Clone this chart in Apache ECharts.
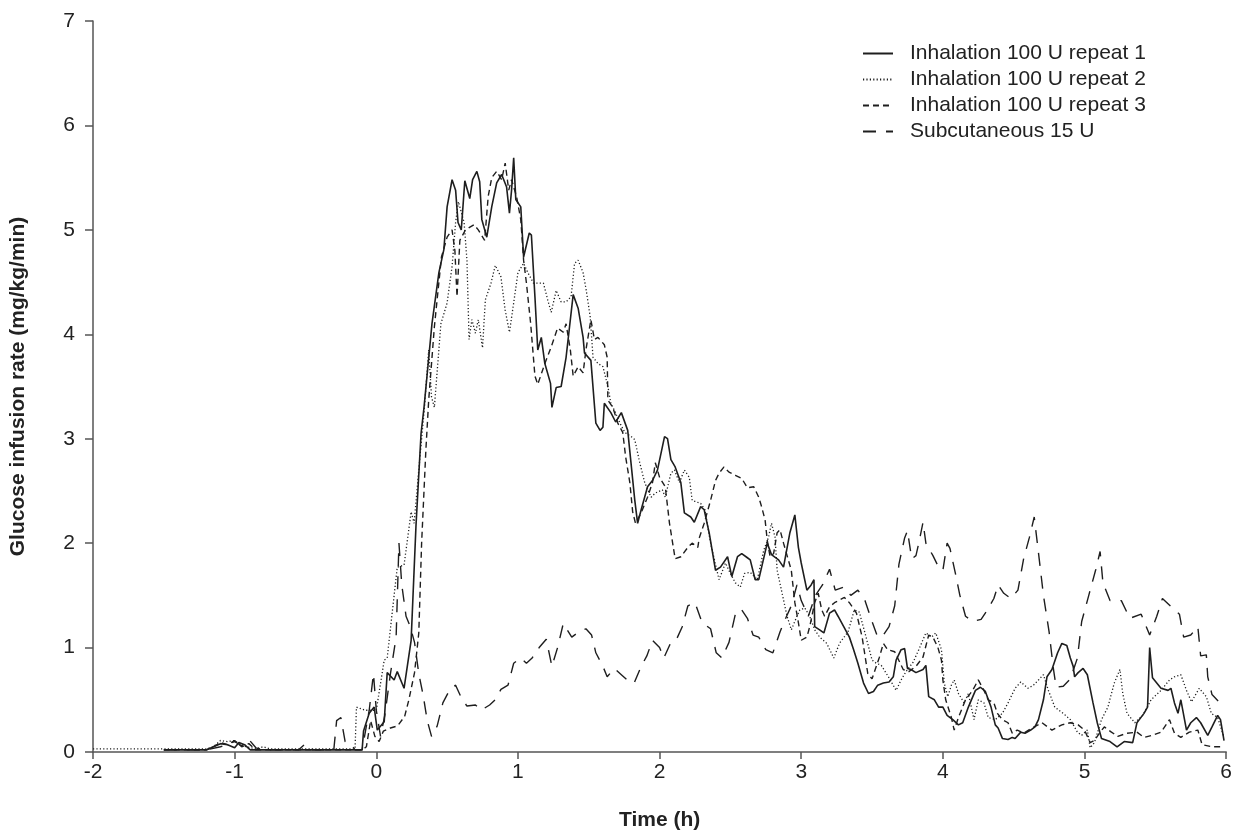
<!DOCTYPE html>
<html>
<head>
<meta charset="utf-8">
<title>Glucose infusion rate</title>
<script src="https://cdn.jsdelivr.net/npm/echarts@6/dist/echarts.min.js"></script>
<style>
  html, body { margin: 0; padding: 0; background: #fff; }
  #main { width: 1235px; height: 836px; }
</style>
</head>
<body>
<div id="main"></div>
<script>
// series names (legend order)
const seriesNames = [
    'Inhalation 100 U repeat 1',
    'Inhalation 100 U repeat 2',
    'Inhalation 100 U repeat 3',
    'Subcutaneous 15 U'
];

// repeat 1 (solid)
const rep1Time = [-1.5, -1.2, -1.15, -1.1, -1.05, -1.0, -0.97, -0.93, -0.89, -0.1, -0.09, -0.05, -0.015, 0.007, 0.056, 0.077, 0.126, 0.148, 0.196, 0.246,
    0.28, 0.316, 0.337, 0.393, 0.442, 0.477, 0.5, 0.535, 0.56, 0.577, 0.6, 0.625, 0.66, 0.68, 0.71, 0.73, 0.745, 0.78, 0.815, 0.85,
    0.885, 0.92, 0.94, 0.955, 0.97, 0.985, 1.02, 1.04, 1.08, 1.095, 1.12, 1.14, 1.165, 1.19, 1.23, 1.24, 1.27, 1.305, 1.34, 1.39,
    1.425, 1.46, 1.47, 1.515, 1.55, 1.58, 1.6, 1.61, 1.656, 1.69, 1.73, 1.775, 1.825, 1.845, 1.87, 1.915, 1.95, 1.985, 2.035, 2.056,
    2.08, 2.11, 2.15, 2.175, 2.22, 2.245, 2.29, 2.315, 2.34, 2.35, 2.395, 2.43, 2.48, 2.51, 2.55, 2.58, 2.62, 2.64, 2.675, 2.7,
    2.76, 2.79, 2.84, 2.875, 2.92, 2.955, 2.98, 3.0, 3.04, 3.07, 3.09, 3.095, 3.13, 3.16, 3.2, 3.235, 3.26, 3.3, 3.34, 3.37,
    3.4, 3.44, 3.475, 3.51, 3.54, 3.58, 3.62, 3.65, 3.67, 3.705, 3.73, 3.75, 3.775, 3.81, 3.86, 3.88, 3.9, 3.94, 3.97, 4.0,
    4.03, 4.07, 4.11, 4.14, 4.18, 4.23, 4.265, 4.3, 4.34, 4.37, 4.39, 4.42, 4.46, 4.49, 4.51, 4.55, 4.58, 4.62, 4.65, 4.675,
    4.71, 4.735, 4.77, 4.81, 4.84, 4.875, 4.9, 4.92, 4.93, 4.955, 4.99, 5.02, 5.06, 5.09, 5.12, 5.18, 5.23, 5.28, 5.34, 5.37,
    5.42, 5.445, 5.46, 5.48, 5.54, 5.59, 5.61, 5.635, 5.66, 5.68, 5.72, 5.75, 5.79, 5.82, 5.87, 5.9, 5.94, 5.96, 5.985];
const rep1Rate = [0.02, 0.02, 0.05, 0.08, 0.07, 0.04, 0.09, 0.07, 0.02, 0.02, 0.2, 0.37, 0.43, 0.21, 0.29, 0.76, 0.69, 0.77, 0.61, 1.07,
    2.16, 3.05, 3.3, 4.1, 4.59, 4.81, 5.22, 5.48, 5.38, 5.07, 5.0, 5.47, 5.3, 5.48, 5.56, 5.46, 5.1, 4.93, 5.22, 5.45,
    5.53, 5.41, 5.16, 5.38, 5.69, 5.29, 5.22, 4.74, 4.97, 4.95, 4.36, 3.85, 3.97, 3.72, 3.53, 3.3, 3.49, 3.5, 3.78, 4.38,
    4.25, 3.97, 3.82, 3.75, 3.15, 3.08, 3.11, 3.34, 3.25, 3.16, 3.25, 3.08, 2.41, 2.19, 2.32, 2.54, 2.6, 2.7, 3.02, 3.0,
    2.8, 2.73, 2.58, 2.29, 2.25, 2.2, 2.35, 2.32, 2.16, 2.1, 1.74, 1.77, 1.87, 1.68, 1.87, 1.9, 1.86, 1.84, 1.65, 1.65,
    2.0, 1.89, 1.84, 1.77, 2.1, 2.27, 1.96, 1.81, 1.55, 1.6, 1.65, 1.2, 1.17, 1.14, 1.33, 1.36, 1.3, 1.2, 1.1, 0.98,
    0.85, 0.66, 0.56, 0.58, 0.64, 0.66, 0.67, 0.72, 0.88, 0.98, 0.99, 0.8, 0.79, 0.76, 0.79, 0.83, 0.53, 0.5, 0.43, 0.43,
    0.35, 0.31, 0.26, 0.28, 0.43, 0.59, 0.62, 0.58, 0.43, 0.26, 0.23, 0.13, 0.12, 0.14, 0.13, 0.19, 0.18, 0.21, 0.24, 0.31,
    0.5, 0.72, 0.79, 0.95, 1.04, 1.02, 0.9, 0.82, 0.72, 0.76, 0.8, 0.74, 0.47, 0.28, 0.13, 0.1, 0.05, 0.1, 0.09, 0.28,
    0.37, 0.43, 1.0, 0.71, 0.61, 0.59, 0.61, 0.47, 0.37, 0.5, 0.21, 0.28, 0.33, 0.28, 0.16, 0.24, 0.35, 0.31, 0.11];

// repeat 2 (dotted)
const rep2Time = [-2, -1.2, -1.15, -1.1, -1.05, -1.0, -0.95, -0.85, -0.8, -0.75, -0.15, -0.14, -0.08, 0.0, 0.056, 0.077, 0.148, 0.196, 0.246, 0.267,
    0.3, 0.34, 0.37, 0.39, 0.41, 0.456, 0.5, 0.535, 0.56, 0.58, 0.62, 0.64, 0.655, 0.675, 0.7, 0.72, 0.75, 0.77, 0.81, 0.84,
    0.88, 0.91, 0.94, 0.97, 1.0, 1.04, 1.07, 1.11, 1.14, 1.18, 1.21, 1.235, 1.27, 1.305, 1.34, 1.375, 1.4, 1.425, 1.46, 1.48,
    1.51, 1.53, 1.565, 1.6, 1.635, 1.656, 1.685, 1.72, 1.755, 1.8, 1.825, 1.86, 1.895, 1.94, 1.97, 2.02, 2.04, 2.08, 2.105, 2.14,
    2.175, 2.21, 2.23, 2.25, 2.29, 2.32, 2.36, 2.42, 2.465, 2.5, 2.535, 2.57, 2.6, 2.64, 2.69, 2.735, 2.77, 2.79, 2.815, 2.83,
    2.865, 2.9, 2.93, 2.97, 2.99, 3.025, 3.06, 3.095, 3.13, 3.18, 3.23, 3.27, 3.33, 3.375, 3.41, 3.45, 3.5, 3.53, 3.565, 3.62,
    3.67, 3.705, 3.74, 3.79, 3.83, 3.88, 3.92, 3.95, 3.99, 4.01, 4.035, 4.06, 4.08, 4.11, 4.15, 4.18, 4.22, 4.25, 4.29, 4.32,
    4.37, 4.42, 4.46, 4.51, 4.55, 4.6, 4.64, 4.675, 4.71, 4.745, 4.79, 4.85, 4.9, 4.95, 4.98, 5.02, 5.04, 5.07, 5.12, 5.165,
    5.21, 5.25, 5.27, 5.3, 5.355, 5.41, 5.47, 5.54, 5.6, 5.635, 5.68, 5.72, 5.755, 5.81, 5.86, 5.895, 5.94, 5.985];
const rep2Rate = [0.03, 0.03, 0.05, 0.11, 0.1, 0.11, 0.06, 0.03, 0.05, 0.03, 0.03, 0.43, 0.4, 0.4, 0.88, 0.9, 1.77, 1.79, 2.3, 2.19,
    2.7, 3.3, 3.85, 3.4, 3.3, 4.1, 4.3, 4.65, 5.07, 5.27, 5.07, 4.71, 3.95, 4.14, 4.01, 4.14, 3.87, 4.33, 4.49, 4.66,
    4.55, 4.23, 4.02, 4.3, 4.59, 4.68, 4.59, 4.49, 4.49, 4.49, 4.33, 4.21, 4.42, 4.31, 4.31, 4.36, 4.68, 4.71, 4.59, 4.44,
    4.17, 3.78, 3.72, 3.69, 3.5, 3.34, 3.26, 3.15, 3.06, 3.02, 2.99, 2.77, 2.58, 2.44, 2.48, 2.51, 2.44, 2.67, 2.7, 2.58,
    2.7, 2.63, 2.41, 2.4, 2.38, 2.32, 2.0, 1.65, 1.81, 1.71, 1.62, 1.58, 1.71, 1.72, 1.65, 1.93, 2.06, 2.19, 2.06, 1.74,
    1.52, 1.3, 1.17, 1.3, 1.36, 1.38, 1.3, 1.17, 1.1, 1.04, 0.9, 1.04, 1.15, 1.36, 1.34, 1.14, 0.88, 0.85, 0.83, 0.71,
    0.59, 0.69, 0.77, 0.86, 0.98, 1.14, 1.1, 1.14, 0.98, 0.66, 0.53, 0.64, 0.69, 0.56, 0.47, 0.56, 0.31, 0.5, 0.47, 0.33,
    0.31, 0.37, 0.47, 0.61, 0.67, 0.61, 0.64, 0.69, 0.74, 0.59, 0.43, 0.37, 0.31, 0.19, 0.16, 0.21, 0.04, 0.09, 0.31, 0.43,
    0.66, 0.79, 0.56, 0.37, 0.28, 0.35, 0.5, 0.59, 0.69, 0.72, 0.74, 0.59, 0.48, 0.61, 0.53, 0.37, 0.33, 0.14];

// repeat 3 (short dash)
const rep3Time = [-1.5, -1.2, -1.15, -1.1, -1.05, -1.0, -0.95, -0.9, -0.85, -0.1, -0.07, -0.04, -0.01, 0.02, 0.05, 0.1, 0.15, 0.2, 0.23, 0.27,
    0.3, 0.32, 0.35, 0.37, 0.41, 0.46, 0.5, 0.535, 0.555, 0.57, 0.59, 0.63, 0.69, 0.72, 0.765, 0.79, 0.815, 0.85, 0.885, 0.91,
    0.935, 0.955, 0.99, 1.02, 1.04, 1.06, 1.09, 1.12, 1.14, 1.19, 1.235, 1.28, 1.32, 1.34, 1.37, 1.39, 1.425, 1.46, 1.48, 1.515,
    1.54, 1.565, 1.61, 1.63, 1.635, 1.67, 1.705, 1.74, 1.76, 1.79, 1.81, 1.83, 1.87, 1.915, 1.95, 1.97, 2.0, 2.04, 2.07, 2.11,
    2.15, 2.2, 2.23, 2.27, 2.28, 2.315, 2.36, 2.395, 2.42, 2.455, 2.49, 2.535, 2.58, 2.62, 2.665, 2.7, 2.72, 2.745, 2.76, 2.78,
    2.805, 2.83, 2.85, 2.875, 2.93, 2.955, 2.98, 3.0, 3.04, 3.06, 3.095, 3.12, 3.145, 3.165, 3.2, 3.235, 3.305, 3.34, 3.39, 3.43,
    3.47, 3.5, 3.55, 3.58, 3.61, 3.66, 3.72, 3.76, 3.81, 3.86, 3.9, 3.93, 3.965, 3.99, 4.0, 4.02, 4.06, 4.08, 4.11, 4.16,
    4.21, 4.25, 4.29, 4.32, 4.36, 4.385, 4.42, 4.46, 4.49, 4.525, 4.57, 4.63, 4.7, 4.77, 4.84, 4.9, 4.955, 5.0, 5.04, 5.07,
    5.11, 5.14, 5.19, 5.235, 5.3, 5.37, 5.42, 5.48, 5.54, 5.6, 5.635, 5.68, 5.74, 5.8, 5.83, 5.9, 5.985];
const rep3Rate = [0.02, 0.02, 0.05, 0.09, 0.07, 0.11, 0.05, 0.08, 0.02, 0.02, 0.05, 0.3, 0.15, 0.1, 0.2, 0.23, 0.25, 0.34, 0.5, 0.76,
    1.14, 2.0, 2.89, 3.37, 4.07, 4.74, 4.93, 5.0, 4.8, 4.36, 4.9, 5.0, 5.05, 5.0, 4.9, 5.32, 5.5, 5.56, 5.48, 5.64,
    5.38, 5.48, 5.32, 5.1, 4.71, 4.49, 4.1, 3.6, 3.52, 3.72, 3.88, 4.06, 4.02, 4.1, 3.85, 3.6, 3.69, 3.63, 3.85, 4.14,
    3.95, 3.97, 3.9, 3.78, 3.37, 3.3, 3.15, 3.06, 2.83, 2.58, 2.3, 2.19, 2.29, 2.44, 2.58, 2.77, 2.63, 2.54, 2.19, 1.85,
    1.87, 1.96, 2.0, 1.96, 2.05, 2.19, 2.41, 2.6, 2.67, 2.73, 2.68, 2.65, 2.62, 2.53, 2.54, 2.44, 2.35, 2.22, 2.03, 1.87,
    1.9, 2.1, 2.13, 2.0, 1.74, 1.43, 1.24, 1.07, 1.1, 1.2, 1.43, 1.52, 1.36, 1.3, 1.39, 1.43, 1.48, 1.43, 1.33, 1.1,
    0.75, 0.7, 0.9, 1.04, 0.98, 0.96, 0.79, 0.77, 0.82, 0.91, 1.12, 1.1, 1.0, 0.88, 0.69, 0.5, 0.33, 0.21, 0.33, 0.5,
    0.59, 0.69, 0.59, 0.5, 0.47, 0.37, 0.31, 0.28, 0.18, 0.21, 0.18, 0.23, 0.28, 0.21, 0.26, 0.28, 0.26, 0.21, 0.09, 0.11,
    0.19, 0.24, 0.19, 0.15, 0.18, 0.19, 0.14, 0.16, 0.19, 0.31, 0.18, 0.14, 0.19, 0.21, 0.07, 0.05, 0.05];

// subcutaneous (long dash)
const scTime = [-1.5, -1.2, -1.1, -1.0, -0.95, -0.9, -0.85, -0.8, -0.55, -0.5, -0.45, -0.3, -0.28, -0.25, -0.22, -0.18, -0.15, -0.1, -0.05, -0.02,
    0.0, 0.03, 0.06, 0.1, 0.14, 0.16, 0.18, 0.21, 0.24, 0.27, 0.3, 0.33, 0.36, 0.39, 0.43, 0.47, 0.52, 0.56, 0.6, 0.64,
    0.7, 0.74, 0.8, 0.84, 0.88, 0.93, 0.97, 1.02, 1.06, 1.1, 1.15, 1.2, 1.24, 1.28, 1.32, 1.38, 1.43, 1.48, 1.52, 1.55,
    1.6, 1.63, 1.68, 1.73, 1.78, 1.82, 1.87, 1.91, 1.95, 2.0, 2.03, 2.08, 2.12, 2.16, 2.2, 2.25, 2.3, 2.36, 2.4, 2.44,
    2.49, 2.54, 2.58, 2.62, 2.66, 2.7, 2.75, 2.8, 2.85, 2.88, 2.93, 2.97, 3.0, 3.05, 3.1, 3.15, 3.2, 3.24, 3.3, 3.35,
    3.4, 3.45, 3.5, 3.54, 3.58, 3.62, 3.66, 3.69, 3.73, 3.75, 3.78, 3.81, 3.83, 3.86, 3.88, 3.93, 3.97, 4.0, 4.03, 4.05,
    4.09, 4.12, 4.16, 4.21, 4.27, 4.31, 4.36, 4.39, 4.43, 4.48, 4.53, 4.57, 4.61, 4.645, 4.68, 4.71, 4.75, 4.78, 4.8, 4.85,
    4.9, 4.95, 4.98, 5.03, 5.08, 5.11, 5.13, 5.18, 5.26, 5.32, 5.4, 5.46, 5.51, 5.55, 5.62, 5.67, 5.7, 5.75, 5.8, 5.82,
    5.86, 5.87, 5.9, 5.95, 6.0];
const scRate = [0.02, 0.02, 0.05, 0.1, 0.06, 0.12, 0.04, 0.02, 0.02, 0.08, 0.02, 0.02, 0.3, 0.33, 0.1, 0.08, 0.02, 0.02, 0.4, 0.75,
    0.4, 0.15, 0.35, 0.75, 1.1, 2.0, 1.6, 1.3, 1.2, 1.05, 0.75, 0.55, 0.3, 0.15, 0.25, 0.47, 0.6, 0.64, 0.52, 0.44,
    0.45, 0.4, 0.45, 0.5, 0.6, 0.64, 0.85, 0.9, 0.85, 0.9, 1.0, 1.08, 0.82, 1.0, 1.23, 1.1, 1.15, 1.18, 1.12, 0.95,
    0.82, 0.72, 0.8, 0.74, 0.68, 0.66, 0.82, 0.92, 1.07, 1.0, 0.9, 1.05, 1.08, 1.2, 1.4, 1.43, 1.24, 1.18, 0.95, 0.9,
    1.05, 1.35, 1.36, 1.28, 1.12, 1.1, 0.98, 0.95, 1.15, 1.25, 1.4, 1.6, 1.45, 1.3, 1.5, 1.6, 1.75, 1.55, 1.58, 1.5,
    1.55, 1.45, 1.25, 1.1, 1.12, 1.2, 1.4, 1.8, 2.05, 2.12, 1.85, 1.88, 2.0, 2.2, 2.0, 1.88, 1.77, 1.74, 2.0, 1.95,
    1.7, 1.5, 1.3, 1.25, 1.27, 1.35, 1.47, 1.6, 1.52, 1.47, 1.55, 1.85, 2.05, 2.25, 1.85, 1.5, 1.15, 0.8, 0.62, 0.63,
    0.7, 0.9, 1.25, 1.5, 1.75, 1.92, 1.62, 1.45, 1.45, 1.28, 1.32, 1.12, 1.3, 1.47, 1.38, 1.32, 1.1, 1.12, 1.2, 0.92,
    0.93, 0.72, 0.55, 0.48, 0.45];

// axis ticks
const timeTicks = { min: -2, max: 6, step: 1 };
const rateTicks = { min: 0, max: 7, step: 1 };

function pairs(ts, vs) {
    return ts.map((t, i) => [t, vs[i]]);
}

const fontFam = '"Liberation Sans", Arial, Helvetica, sans-serif';
const ink = '#1e1e1e';
const axisColor = '#555';

function makeLine(name, times, rates, dash, width) {
    return {
        name: name,
        type: 'line',
        data: pairs(times, rates),
        symbol: 'none',
        showSymbol: false,
        smooth: false,
        lineStyle: { color: ink, width: width, type: dash },
        itemStyle: { color: ink }
    };
}

let chartDom = document.getElementById('main');
let myChart = echarts.init(chartDom, null, { renderer: 'canvas' });

let option = {
    animation: false,
    backgroundColor: '#fff',
    textStyle: { fontFamily: fontFam },
    grid: { left: 92, right: 3, top: 21, bottom: 84, containLabel: false },
    legend: {
        orient: 'vertical',
        left: 862,
        top: 43,
        padding: 0,
        itemWidth: 30,
        itemHeight: 12,
        itemGap: 5,
        // hide the marker dot, keep only the line sample
        itemStyle: { color: 'transparent', borderColor: 'transparent', borderWidth: 0, opacity: 0 },
        data: seriesNames,
        textStyle: { fontSize: 21, color: '#222', fontFamily: fontFam, padding: [0, 0, 0, 12] }
    },
    xAxis: {
        type: 'value',
        min: timeTicks.min,
        max: timeTicks.max,
        interval: timeTicks.step,
        name: 'Time (h)',
        nameLocation: 'middle',
        nameGap: 58,
        nameTextStyle: { fontSize: 21, fontWeight: 'bold', color: '#222', fontFamily: fontFam },
        axisLine: { show: true, onZero: false, lineStyle: { color: axisColor, width: 1.5 } },
        axisTick: { show: true, inside: false, length: 7, lineStyle: { color: axisColor, width: 1.5 } },
        axisLabel: { fontSize: 21, color: '#222', margin: 10, fontFamily: fontFam },
        splitLine: { show: false }
    },
    yAxis: {
        type: 'value',
        min: rateTicks.min,
        max: rateTicks.max,
        interval: rateTicks.step,
        name: 'Glucose infusion rate (mg/kg/min)',
        nameLocation: 'middle',
        nameGap: 64,
        nameTextStyle: { fontSize: 21, fontWeight: 'bold', color: '#222', fontFamily: fontFam },
        axisLine: { show: true, onZero: false, lineStyle: { color: axisColor, width: 1.5 } },
        axisTick: { show: true, inside: false, length: 8, lineStyle: { color: axisColor, width: 1.5 } },
        axisLabel: { fontSize: 21, color: '#222', margin: 18, fontFamily: fontFam },
        splitLine: { show: false }
    },
    series: [
        makeLine(seriesNames[0], rep1Time, rep1Rate, 'solid', 1.6),
        makeLine(seriesNames[1], rep2Time, rep2Rate, [1.2, 2.2], 1.3),
        makeLine(seriesNames[2], rep3Time, rep3Rate, [6, 4], 1.4),
        makeLine(seriesNames[3], scTime, scRate, [13, 10], 1.4)
    ]
};

myChart.setOption(option);
</script>
</body>
</html>
